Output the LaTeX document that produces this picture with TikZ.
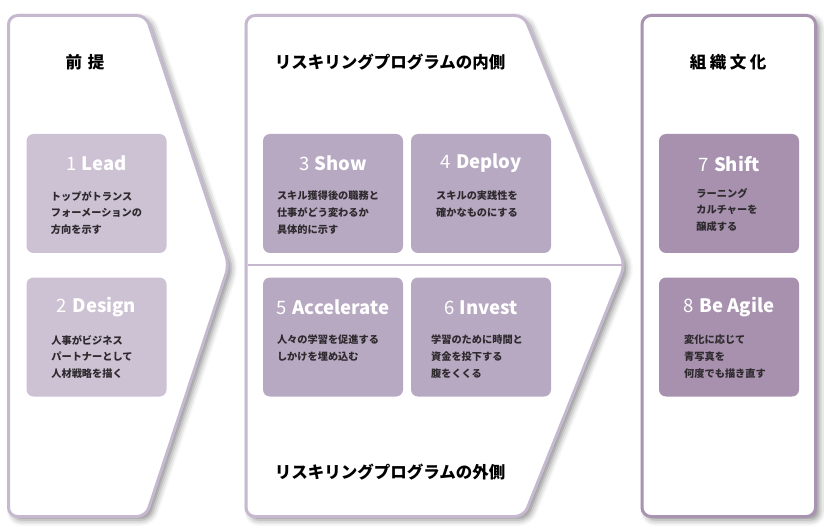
\documentclass[tikz,border=0pt]{standalone}
\usepackage{fontspec}
\setmainfont{Noto Sans CJK JP}
\usetikzlibrary{shadows.blur}
\definecolor{bordA}{HTML}{C6B9CF}
\definecolor{bordB}{HTML}{A893B0}
\definecolor{fillA}{HTML}{CDC2D4}
\definecolor{fillB}{HTML}{B8A9C2}
\definecolor{fillC}{HTML}{A791AE}
\definecolor{txt}{HTML}{2E2A2E}
\newcommand{\cardtitle}[2]{#1\hspace{5.5pt}\textbf{#2}}
\begin{document}
\begin{tikzpicture}[x=1pt,y=-1pt,
  panelbase/.style={line width=3pt, fill=white, rounded corners=9pt,
    blur shadow={shadow xshift=4pt, shadow yshift=-3.5pt, shadow blur radius=6pt, shadow opacity=45}},
  panelA/.style={panelbase, draw=bordA},
  panelB/.style={panelbase, draw=bordB},
  card/.style={rounded corners=7pt, minimum width=140pt, minimum height=119pt, inner sep=0pt, draw=none},
  cardA/.style={card, fill=fillA},
  cardB/.style={card, fill=fillB},
  cardC/.style={card, fill=fillC},
  ctitle/.style={text=white, font=\fontsize{18.5}{20}\selectfont, inner sep=0pt},
  cbody/.style={text=txt, font=\bfseries\fontsize{10.2}{16.7}\selectfont, align=left, inner sep=0pt, anchor=north},
  heading/.style={text=black, font=\bfseries\fontsize{16.5}{18}\selectfont, inner sep=0pt}
]
\useasboundingbox (0,0) rectangle (824,529);

% panels
\draw[panelA] (8.5,15.5) -- (146,15.5) -- (229,265) -- (146,516.5) -- (8.5,516.5) -- cycle;
\draw[panelA] (246,15.5) -- (524,15.5) -- (625,265) -- (524,516.5) -- (246,516.5) -- cycle;
\draw[panelB, rounded corners=9pt] (642,15.5) rectangle (815.5,516.5);

% divider inside the middle panel
\coordinate (divL) at (247.5,265.5);
\coordinate (divR) at (622,265.5);
\draw[bordA, line width=2pt] (divL) -- (divR);

% headings
\node[heading] (h1) at (85,62) {前\hspace{6pt}提};
\node[heading] (h2) at (390,62) {リスキリングプログラムの内側};
\node[heading] (h3) at (390,472) {リスキリングプログラムの外側};
\node[heading] (h4) at (728,62) {組\hspace{3.5pt}織\hspace{3.5pt}文\hspace{3.5pt}化};

% cards
\node[cardA] (b1) at (96.5,193.5) {};
\node[cardA] (b2) at (96.5,337) {};
\node[cardB] (b3) at (333,193.5) {};
\node[cardB] (b4) at (481,193.5) {};
\node[cardB] (b5) at (333,337) {};
\node[cardB] (b6) at (481,337) {};
\node[cardC] (b7) at (729,193.5) {};
\node[cardC] (b8) at (729,337) {};

% card titles
\node[ctitle] (t1) at (96.5,163) {\cardtitle{1}{Lead}};
\node[ctitle] (t2) at (96.5,307.5) {\cardtitle{2}{Design}};
\node[ctitle] (t3) at (333,163) {\cardtitle{3}{Show}};
\node[ctitle] (t4) at (481,163) {\cardtitle{4}{Deploy}};
\node[ctitle] (t5) at (333,307.5) {\cardtitle{5}{Accelerate}};
\node[ctitle] (t6) at (481,307.5) {\cardtitle{6}{Invest}};
\node[ctitle] (t7) at (729,164) {\cardtitle{7}{Shift}};
\node[ctitle] (t8) at (729,307.5) {\cardtitle{8}{Be Agile}};

% card bodies
\node[cbody] (d1) at (96.5,191) {トップがトランス\\フォーメーションの\\方向を示す};
\node[cbody] (d2) at (92,335) {人事がビジネス\\パートナーとして\\人材戦略を描く};
\node[cbody] (d3) at (328,191) {スキル獲得後の職務と\\仕事がどう変わるか\\具体的に示す};
\node[cbody] (d4) at (477,191) {スキルの実践性を\\確かなものにする};
\node[cbody] (d5) at (328,335) {人々の学習を促進する\\しかけを埋め込む};
\node[cbody] (d6) at (477,335) {学習のために時間と\\資金を投下する\\腹をくくる};
\node[cbody] (d7) at (727,188) {ラーニング\\カルチャーを\\醸成する};
\node[cbody] (d8) at (725,335) {変化に応じて\\青写真を\\何度でも描き直す};
\end{tikzpicture}
\end{document}
